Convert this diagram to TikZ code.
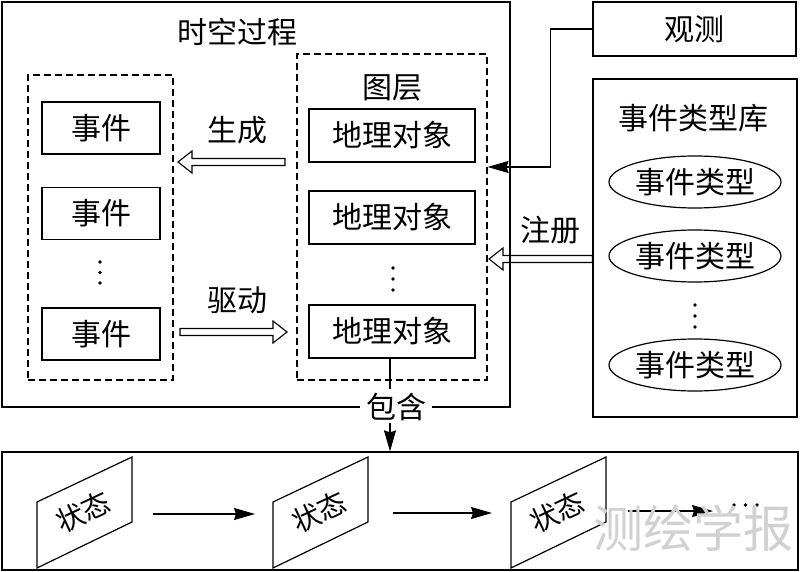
\documentclass[tikz,border=0pt]{standalone}
\usepackage{fontspec}
\setmainfont{Noto Sans CJK SC}
\usetikzlibrary{arrows.meta,calc,shapes.geometric}
\newcommand{\hollowL}[2]{\draw[line width=1.1pt] ($(#1)+(0,-3.5)$) -- ($(#2)+(14,-3.5)$) -- ($(#2)+(14,-11)$) -- (#2) -- ($(#2)+(14,11)$) -- ($(#2)+(14,3.5)$) -- ($(#1)+(0,3.5)$) -- cycle;}
\newcommand{\hollowR}[2]{\draw[line width=1.1pt] ($(#1)+(0,-3.5)$) -- ($(#2)+(-14,-3.5)$) -- ($(#2)+(-14,-11)$) -- (#2) -- ($(#2)+(-14,11)$) -- ($(#2)+(-14,3.5)$) -- ($(#1)+(0,3.5)$) -- cycle;}
\begin{document}
\begin{tikzpicture}[x=1pt,y=-1pt,line width=1.2pt,
  every node/.style={font=\fontsize{30}{32}\selectfont, inner sep=0pt},
  box/.style={draw, rectangle, line width=1.2pt},
  dbox/.style={draw, rectangle, line width=1.1pt, dash pattern=on 7pt off 4pt},
  ell/.style={draw, ellipse, line width=1.2pt, minimum width=172pt, minimum height=52pt},
  arr/.style={-{Stealth[length=21pt,width=12pt,inset=2pt]}, line width=1.2pt},
  statebox/.style={draw, line width=1.2pt},
  statetxt/.style={font=\fontsize{28}{30}\selectfont, rotate=25},
  wm/.style={font=\fontsize{50}{52}\selectfont, text=black!18}]
\useasboundingbox (0,0) rectangle (800,572);

% spatio-temporal process
\node[box, minimum width=508pt, minimum height=405pt] (proc) at (256,204.5) {};
\node (proct) at (237,32) {时空过程};

% events
\node[dbox, minimum width=145pt, minimum height=305pt] (evg) at (100.5,227.5) {};
\node[box, minimum width=118pt, minimum height=52pt] (ev1) at (101,128) {事件};
\node[box, minimum width=118pt, minimum height=52pt] (ev2) at (101,213.5) {事件};
\node[box, minimum width=118pt, minimum height=52pt] (ev3) at (101,334) {事件};
\foreach \yy in {262,272.5,283} \fill (100,\yy) circle (1.8);

% layer
\node[dbox, minimum width=190pt, minimum height=326pt] (layer) at (392,217) {};
\node (layert) at (392,88) {图层};
\node[box, minimum width=166pt, minimum height=53pt] (geo1) at (392,135.5) {地理对象};
\node[box, minimum width=166pt, minimum height=53pt] (geo2) at (392,217.5) {地理对象};
\node[box, minimum width=166pt, minimum height=53pt] (geo3) at (392,331.5) {地理对象};
\foreach \yy in {268,279,290} \fill (393,\yy) circle (1.8);

% generate / drive
\coordinate (gtail) at (285,162);
\coordinate (gtip) at (178,162);
\hollowL{gtail}{gtip}
\node (gen) at (237,130) {生成};
\coordinate (dtail) at (180,332);
\coordinate (dtip) at (287,332);
\hollowR{dtail}{dtip}
\node (drv) at (237,300) {驱动};

% observation
\node[box, minimum width=203pt, minimum height=54pt] (obs) at (694.5,29) {观测};
\draw[arr] (obs.west) -- ++(-42,0) |- (layer.east |- 0,167);

% event type library
\node[box, minimum width=204pt, minimum height=338pt] (lib) at (695,248) {};
\node (libt) at (693,118) {事件类型库};
\node[ell] (et1) at (695,182) {事件类型};
\node[ell] (et2) at (695,256) {事件类型};
\node[ell] (et3) at (695,365) {事件类型};
\foreach \yy in {305,316,327} \fill (695,\yy) circle (1.8);

% register
\coordinate (rtail) at (lib.west |- 0,259);
\coordinate (rtip) at (489,259);
\hollowL{rtail}{rtip}
\node (reg) at (550,230) {注册};

% bottom states
\node[box, minimum width=796pt, minimum height=118pt] (bot) at (400,511) {};

% contains
\node[fill=white, inner xsep=6pt, inner ysep=2pt] (bh) at (396,407) {包含};
\draw ($(geo3.south)+(-2,0)$) -- ++(0,30);
\coordinate (bhx) at ($(bh.south)+(-6,0)$);
\draw[arr] (bhx) -- (bhx |- bot.north);

\foreach \L/\n in {37/s1,273/s2,511/s3}{
  \draw[statebox] (\L,568) -- (\L,502) -- (\L+95,457) -- (\L+95,522) -- cycle;
  \node[statetxt] (\n) at (\L+46,512) {状态};
}
\coordinate (a1s) at (153,514); \coordinate (a1e) at (255,514);
\coordinate (a2s) at (393,513); \coordinate (a2e) at (492,513);
\coordinate (a3s) at (628,511); \coordinate (a3e) at (713,511);
\draw[arr] (a1s) -- (a1e);
\draw[arr] (a2s) -- (a2e);
\draw[arr] (a3s) -- (a3e);
\foreach \xx in {734,745.5,757} \fill (\xx,505) circle (1.8);

% watermark
\node[wm] (wmk) at (693,528) {测绘学报};
\end{tikzpicture}
\end{document}
